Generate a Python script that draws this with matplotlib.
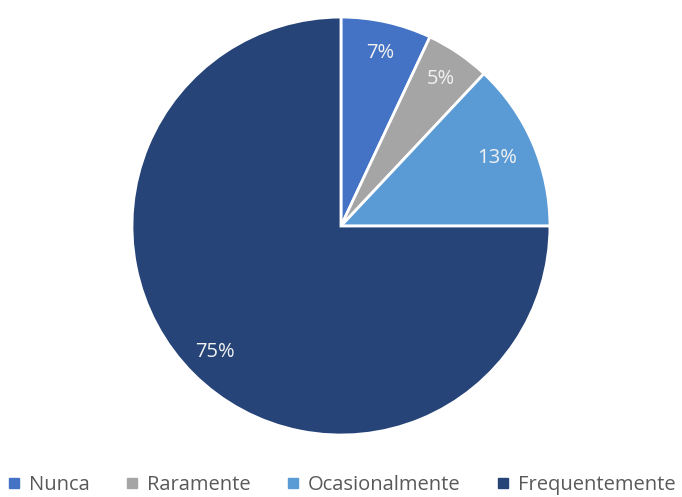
import matplotlib.pyplot as plt
from matplotlib.lines import Line2D

categories = ['Nunca', 'Raramente', 'Ocasionalmente', 'Frequentemente']
shares = [7, 5, 13, 75]
colors = ['#4472C4', '#A5A5A5', '#5B9BD5', '#264478']

plt.rcParams['font.family'] = ['Open Sans', 'DejaVu Sans']

fig = plt.figure(figsize=(6.82, 4.97), dpi=100)
ax = fig.add_axes([0.1935, 0.1247, 0.6129, 0.841])

wedges, texts, autotexts = ax.pie(
    shares, colors=colors, startangle=90, counterclock=False,
    autopct='%1.0f%%', pctdistance=0.85, radius=1.0,
    wedgeprops={'edgecolor': 'white', 'linewidth': 2},
    textprops={'color': '#F2F2F2', 'fontsize': 14.5})
# pull the 13% label a little toward the centre
x, y = autotexts[2].get_position()
autotexts[2].set_position((x * 0.96, y * 0.96))
ax.set_xlim(-1, 1)
ax.set_ylim(-1, 1)
ax.set_aspect('equal')

# legend with square markers along the bottom edge
handles = [Line2D([], [], marker='s', linestyle='', markersize=7,
                  markerfacecolor=c, markeredgecolor=c) for c in colors]
leg = fig.legend(handles, categories, loc='center', bbox_to_anchor=(0.5, 0.024),
                 ncol=4, frameon=False, fontsize=14.5, handlelength=0.7,
                 handletextpad=0.4, columnspacing=1.75, labelcolor='#595959')

fig.savefig('out.png', dpi=100)
